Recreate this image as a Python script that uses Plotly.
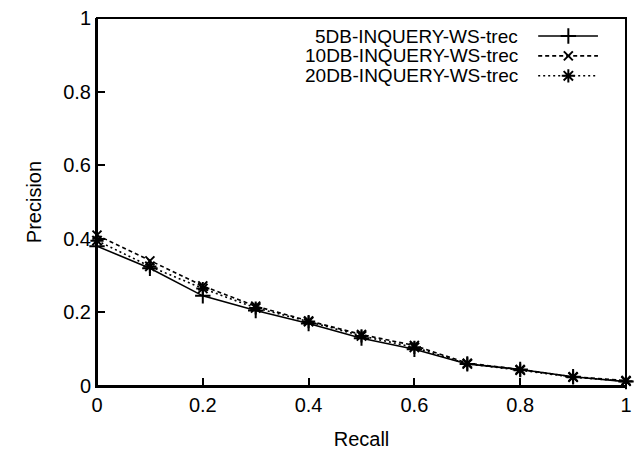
import plotly.graph_objects as go

recall = [0.0, 0.1, 0.2, 0.3, 0.4, 0.5, 0.6, 0.7, 0.8, 0.9, 1.0]
p_5db = [0.380, 0.320, 0.245, 0.205, 0.170, 0.130, 0.100, 0.060, 0.045, 0.025, 0.012]
p_10db = [0.410, 0.340, 0.272, 0.217, 0.177, 0.140, 0.110, 0.062, 0.045, 0.025, 0.015]
p_20db = [0.395, 0.325, 0.265, 0.212, 0.175, 0.136, 0.105, 0.060, 0.043, 0.024, 0.013]
series_names = ["5DB-INQUERY-WS-trec", "10DB-INQUERY-WS-trec", "20DB-INQUERY-WS-trec"]
tick_vals = [0, 0.2, 0.4, 0.6, 0.8, 1]
tick_text = ["0", "0.2", "0.4", "0.6", "0.8", "1"]

FONT = "Liberation Sans, Arial, Helvetica, sans-serif"
FS = 20
LFS = 19
styles = [
    dict(dash="solid", symbol="cross-thin", size=11),
    dict(dash="4px,3px", symbol="x-thin", size=9),
    dict(dash="2px,3px", symbol="asterisk", size=11),
]
series = [p_5db, p_10db, p_20db]

fig = go.Figure()
for name, ys, st in zip(series_names, series, styles):
    fig.add_trace(go.Scatter(
        x=recall, y=ys, name=name, mode="lines+markers",
        line=dict(color="black", width=1.6, dash=st["dash"]),
        marker=dict(symbol=st["symbol"], size=st["size"], color="black",
                    line=dict(color="black", width=2)),
        showlegend=False, cliponaxis=False,
    ))

# custom legend (text left, sample right), placed in the axes' own 0..1 frame
leg_y = [0.951, 0.897, 0.843]
for name, st, ly in zip(series_names, styles, leg_y):
    fig.add_trace(go.Scatter(
        x=[0.834, 0.891, 0.947], y=[ly, ly, ly], mode="lines",
        line=dict(color="black", width=1.6, dash=st["dash"]),
        showlegend=False, hoverinfo="skip",
    ))
    fig.add_trace(go.Scatter(
        x=[0.891], y=[ly], mode="markers",
        marker=dict(symbol=st["symbol"], size=st["size"], color="black",
                    line=dict(color="black", width=2)),
        showlegend=False, hoverinfo="skip",
    ))
    fig.add_annotation(x=0.80, y=ly, xref="x", yref="y", text=name,
                       showarrow=False, xanchor="right", yanchor="middle",
                       font=dict(family=FONT, size=LFS, color="black"))

axis_common = dict(
    showgrid=False, zeroline=False, showline=True, linecolor="black",
    linewidth=2, ticks="inside", ticklen=8, tickwidth=1.5,
    tickcolor="black", tickfont=dict(family=FONT, size=FS, color="black"),
    automargin=False, fixedrange=True, range=[0, 1], tickvals=tick_vals,
)
fig.update_layout(
    width=637, height=450,
    margin=dict(l=97, r=11, t=18, b=64),
    paper_bgcolor="white", plot_bgcolor="white",
    showlegend=False,
    xaxis=dict(ticktext=tick_text,
               title=dict(text="Recall", font=dict(family=FONT, size=FS, color="black"), standoff=20),
               **axis_common),
    yaxis=dict(ticktext=tick_text,
               title=dict(text="Precision", font=dict(family=FONT, size=FS, color="black"), standoff=16),
               **axis_common),
    xaxis2=dict(overlaying="x", side="top", showticklabels=False, anchor="y", **axis_common),
    yaxis2=dict(overlaying="y", side="right", showticklabels=False, anchor="x", **axis_common),
    shapes=[dict(type="rect", xref="paper", yref="paper", x0=0, x1=1, y0=0, y1=1,
                 line=dict(color="black", width=2), layer="above")],
)

fig.write_html("out.html", config={"displayModeBar": False},
               post_script="document.body.style.margin='0';document.body.style.padding='0';")
